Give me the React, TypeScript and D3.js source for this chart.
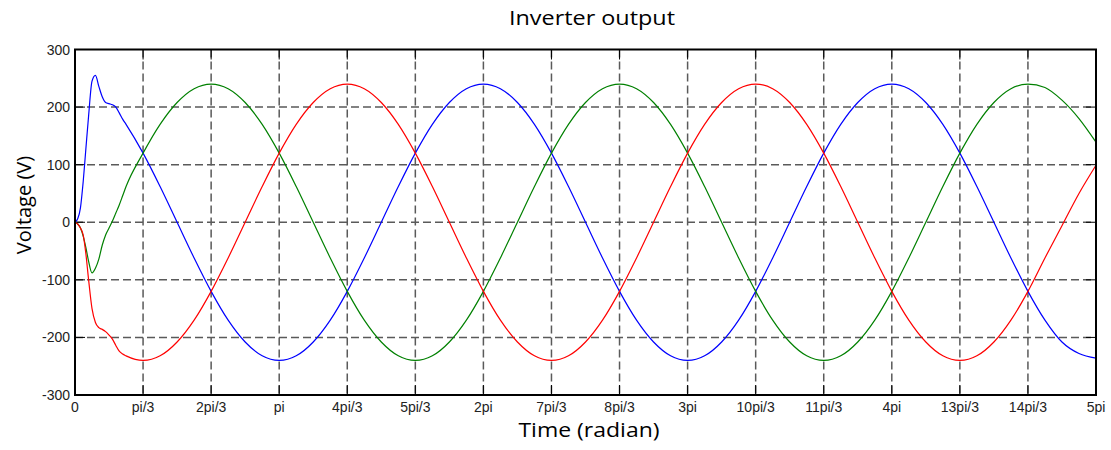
import React from "react";
import * as d3 from "d3";

// time in multiples of pi/3
const TIME_PI3: number[] = [
  0, 0.04, 0.08, 0.12, 0.16, 0.2, 0.25, 0.3, 0.35, 0.4, 0.45, 0.5, 0.55, 0.6, 0.65, 0.7,
  0.75, 1, 1.25, 1.5, 1.75, 2, 2.25, 2.5, 2.75, 3, 3.25, 3.5, 3.75, 4, 4.25, 4.5, 4.75,
  5, 5.25, 5.5, 5.75, 6, 6.25, 6.5, 6.75, 7, 7.25, 7.5, 7.75, 8, 8.25, 8.5, 8.75,
  9, 9.25, 9.5, 9.75, 10, 10.25, 10.5, 10.75, 11, 11.25, 11.5, 11.75, 12, 12.25, 12.5, 12.75,
  13, 13.25, 13.5, 13.75, 14, 14.25, 14.5, 14.75, 15,
];

const PHASE_BLUE: number[] = [
  0, 6, 25, 70, 128, 185, 245, 255, 236, 218, 208, 206, 204, 200, 190, 179,
  170, 120, 62, 0, -62, -120, -170, -208, -232, -240, -232, -208, -170, -120, -62, 0, 62, 120, 170, 208, 232,
  240, 232, 208, 170, 120, 62, 0, -62, -120, -170, -208, -232, -240, -232, -208, -170, -120, -62, 0, 62, 120, 170, 208, 232,
  240, 232, 208, 170, 120, 62, 0, -62, -120, -170, -208, -228, -236,
];

const PHASE_GREEN: number[] = [
  0, -3, -10, -24, -44, -68, -88, -80, -64, -40, -22, -10, 2, 16, 30, 46,
  62, 120, 170, 208, 232,
  240, 232, 208, 170, 120, 62, 0, -62, -120, -170, -208, -232, -240, -232, -208, -170, -120, -62, 0, 62, 120, 170, 208, 232,
  240, 232, 208, 170, 120, 62, 0, -62, -120, -170, -208, -232, -240, -232, -208, -170, -120, -62, 0, 62, 120, 170, 208, 232,
  240, 234, 212, 180, 139,
];

const PHASE_RED: number[] = [
  0, -3, -10, -22, -55, -100, -150, -174, -183, -186, -190, -196, -203, -214, -224, -229,
  -232, -240, -232, -208, -170, -120, -62, 0, 62, 120, 170, 208, 232,
  240, 232, 208, 170, 120, 62, 0, -62, -120, -170, -208, -232, -240, -232, -208, -170, -120, -62, 0, 62, 120, 170, 208, 232,
  240, 232, 208, 170, 120, 62, 0, -62, -120, -170, -208, -232, -240, -232, -208, -170, -120, -62, -6, 50, 99,
];

const X_TICK_LABELS: string[] = [
  "0", "pi/3", "2pi/3", "pi", "4pi/3", "5pi/3", "2pi", "7pi/3", "8pi/3", "3pi",
  "10pi/3", "11pi/3", "4pi", "13pi/3", "14pi/3", "5pi",
];
const Y_TICKS: number[] = [-300, -200, -100, 0, 100, 200, 300];

const TITLE = "Inverter output";
const X_LABEL = "Time (radian)";
const Y_LABEL = "Voltage (V)";

const W = 1111;
const H = 450;
const L = 75, R = 1096, T = 49.5, B = 395;

export default function App() {
  const x = d3.scaleLinear().domain([0, 15]).range([L, R]);
  const y = d3.scaleLinear().domain([-300, 300]).range([B, T]);
  const line = d3
    .line<number>()
    .x((_, i) => x(TIME_PI3[i]))
    .y((v) => y(v))
    .curve(d3.curveMonotoneX);

  const tickFont = "'Liberation Sans Narrow', 'Arial Narrow', 'Liberation Sans', Arial, sans-serif";
  const labelFont = "'Open Sans', Lato, sans-serif";
  const xTicks = X_TICK_LABELS.map((_, i) => i);

  return (
    <svg
      width={W}
      height={H}
      style={{ position: "absolute", left: 0, top: 0, background: "#fff" }}
    >
      <rect x={0} y={0} width={W} height={H} fill="#fff" />
      {/* grid */}
      <g stroke="#5a5a5a" strokeWidth={1.5} strokeDasharray="8,4">
        {xTicks.slice(1, -1).map((i) => (
          <line key={"gx" + i} x1={x(i)} x2={x(i)} y1={T} y2={B} />
        ))}
        {Y_TICKS.slice(1, -1).map((v) => (
          <line key={"gy" + v} x1={L} x2={R} y1={y(v)} y2={y(v)} />
        ))}
      </g>
      {/* tick marks inward */}
      <g stroke="#000" strokeWidth={1}>
        {xTicks.map((i) => (
          <g key={"tx" + i}>
            <line x1={x(i)} x2={x(i)} y1={B} y2={B - 10} />
            <line x1={x(i)} x2={x(i)} y1={T} y2={T + 10} />
          </g>
        ))}
        {Y_TICKS.map((v) => (
          <g key={"ty" + v}>
            <line x1={L} x2={L + 10} y1={y(v)} y2={y(v)} />
            <line x1={R} x2={R - 10} y1={y(v)} y2={y(v)} />
          </g>
        ))}
      </g>
      {/* series */}
      <g fill="none" strokeWidth={1.2} strokeLinejoin="round">
        <path d={line(PHASE_BLUE) || ""} stroke="#0000ff" />
        <path d={line(PHASE_GREEN) || ""} stroke="#008000" />
        <path d={line(PHASE_RED) || ""} stroke="#ff0000" />
      </g>
      {/* frame */}
      <rect x={L} y={T} width={R - L} height={B - T} fill="none" stroke="#000" strokeWidth={2} />
      {/* tick labels */}
      <g fontFamily={tickFont} fontSize={14} fill="#222">
        {xTicks.map((i) => (
          <text key={"lx" + i} x={x(i)} y={412} textAnchor="middle">
            {X_TICK_LABELS[i]}
          </text>
        ))}
        {Y_TICKS.map((v) => (
          <text key={"ly" + v} x={70} y={y(v) + 5} textAnchor="end">
            {v}
          </text>
        ))}
      </g>
      <text
        transform="translate(592,25) scale(1.17,1)"
        textAnchor="middle"
        fontFamily={labelFont}
        fontSize={20}
        fill="#000"
      >
        {TITLE}
      </text>
      <text
        transform="translate(589,437) scale(1.15,1)"
        textAnchor="middle"
        fontFamily={labelFont}
        fontSize={20}
        fill="#000"
      >
        {X_LABEL}
      </text>
      <text
        transform="translate(31,205) rotate(-90)"
        textAnchor="middle"
        fontFamily={labelFont}
        fontSize={20}
        fill="#000"
      >
        {Y_LABEL}
      </text>
    </svg>
  );
}
